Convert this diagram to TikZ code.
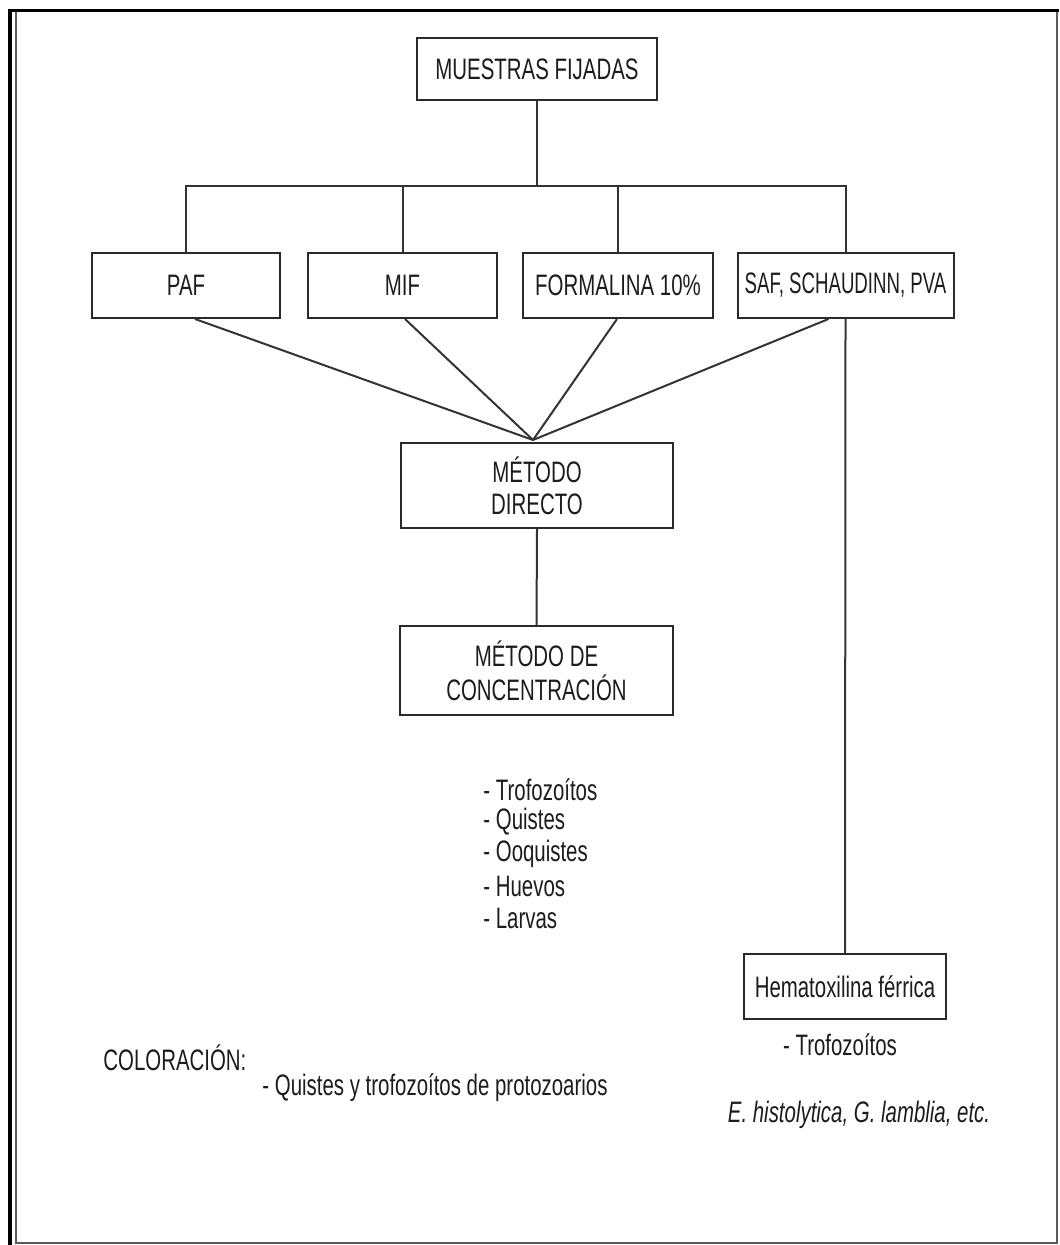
\documentclass[tikz,border=0pt]{standalone}
\usepackage{fontspec}
\setmainfont{Liberation Sans}[FakeStretch=0.69]
\newfontfamily\safnarrow{Liberation Sans}[FakeStretch=0.63]
\usetikzlibrary{calc}
\definecolor{txt}{HTML}{1C1C1C}
\definecolor{boxc}{HTML}{2A2A2A}
\definecolor{linec}{HTML}{333333}
\definecolor{frameg}{HTML}{5A5A5A}
\newcommand\dfs{\fontsize{14.8}{16}\selectfont}
\begin{document}
\begin{tikzpicture}[x=0.5pt,y=-0.5pt,
  box/.style={draw=boxc, line width=1pt, fill=white, inner sep=0pt, align=center, font=\dfs, text=txt},
  lbl/.style={inner sep=0pt, font=\dfs, text=txt},
  conn/.style={draw=linec, line width=1pt}]
\useasboundingbox (0,0) rectangle (1059,1245);
% frame
\draw[black, line width=1.6pt] (10,1245) -- (10,10.5) -- (1059,10.5);
\draw[frameg, line width=1pt] (15.5,12) -- (15.5,1243) -- (1056.5,1243) -- (1056.5,12);
% boxes
\node[box, minimum width=120pt, minimum height=31pt] (top) at (537,69) {MUESTRAS FIJADAS};
\node[box, minimum width=94pt, minimum height=32.5pt] (paf) at (186,285.5) {PAF};
\node[box, minimum width=94.5pt, minimum height=32.5pt] (mif) at (402.5,285.5) {MIF};
\node[box, minimum width=95pt, minimum height=32.5pt] (form) at (618,285.5) {FORMALINA 10\%};
\node[box, minimum width=108pt, minimum height=32.5pt, font=\safnarrow\dfs] (saf) at (845.5,285.5) {SAF, SCHAUDINN, PVA};
\node[box, minimum width=136pt, minimum height=42.5pt] (dir) at (537,485.5) {MÉTODO\\DIRECTO};
\node[box, minimum width=136.5pt, minimum height=44.5pt, font=\fontsize{14.8}{17}\selectfont] (conc) at (536.5,670.5) {MÉTODO DE\\CONCENTRACIÓN};
\node[box, minimum width=101pt, minimum height=32.5pt] (hem) at (845,986.5) {Hematoxilina férrica};
% connectors
\coordinate (bar) at (537,186);
\coordinate (apex) at (533,440);
\draw[conn] (top.south) -- (top.south |- bar);
\draw[conn] (paf.north) -- (paf.north |- bar) -| (saf.north);
\draw[conn] (mif.north) -- (mif.north |- bar);
\draw[conn] (form.north) -- (form.north |- bar);
\draw[conn] ($(paf.south)+(9,0)$) -- (apex);
\draw[conn] ($(mif.south)+(2.5,0)$) -- (apex);
\draw[conn] ($(form.south)+(-1,0)$) -- (apex);
\draw[conn] ($(saf.south)+(-17,0)$) -- (apex);
\draw[conn] (dir.south) -- (conc.north);
\draw[conn] (saf.south) -- (hem.north);
% texts
\node[lbl, anchor=west] (l1) at (483,790) {- Trofozoítos};
\node[lbl, anchor=west] (l2) at (483,822) {- Quistes};
\node[lbl, anchor=west] (l3) at (483,854) {- Ooquistes};
\node[lbl, anchor=west] (l4) at (483,886) {- Huevos};
\node[lbl, anchor=west] (l5) at (483,918) {- Larvas};
\node[lbl] (t2) at (840,1045) {- Trofozoítos};
\node[lbl, anchor=west] (col) at (103,1058) {COLORACIÓN:};
\node[lbl, anchor=west] (qy) at (262,1088) {- Quistes y trofozoítos de protozoarios};
\node[lbl, font=\dfs\itshape] (eh) at (859,1115) {E. histolytica, G. lamblia, etc.};
\end{tikzpicture}
\end{document}
